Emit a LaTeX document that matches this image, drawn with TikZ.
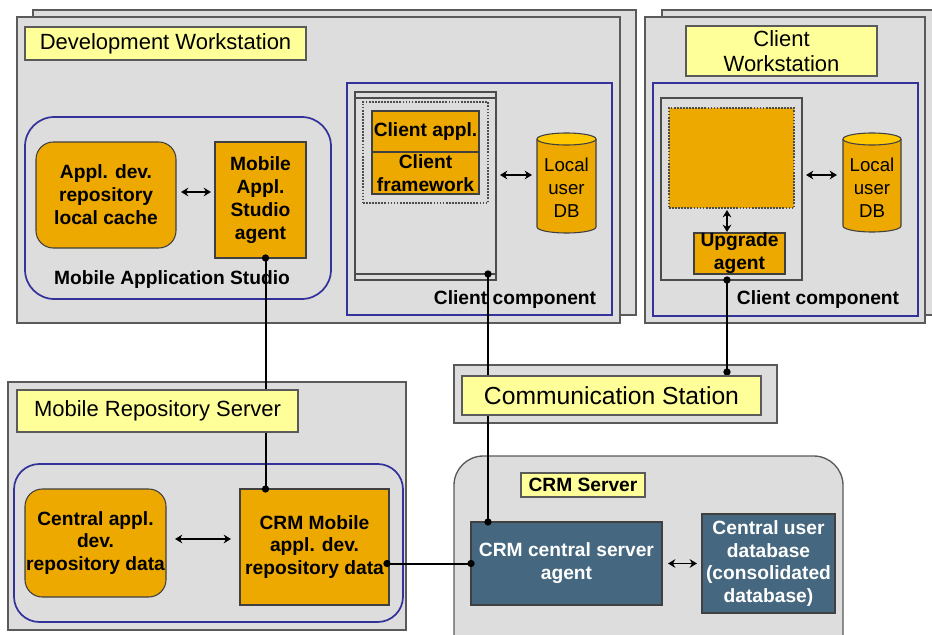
\documentclass[tikz,border=0pt]{standalone}
\usepackage{fontspec}
\setmainfont{Liberation Sans}
\usetikzlibrary{arrows.meta,calc}

\definecolor{panel}{HTML}{DDDDDD}
\definecolor{edge}{HTML}{5A5A5A}
\definecolor{notefill}{HTML}{FFFF99}
\definecolor{amber}{HTML}{EDA900}
\definecolor{amberlight}{HTML}{FFC800}
\definecolor{groupblue}{HTML}{333399}
\definecolor{slate}{HTML}{456880}

% Database drum drawn over an empty rectangular node: #1 node name, #2 half width (px)
\newcommand{\drumshape}[2]{%
  \path[fill=amber, draw=black!75, line width=0.8pt]
    ($(#1.north west)+(0,6)$) -- ($(#1.south west)+(0,-6)$)
    .. controls ($(#1.south west)+(0,-2.7)$) and ($(#1.south)+(-0.5523*#2,0)$) .. (#1.south)
    .. controls ($(#1.south)+(0.5523*#2,0)$) and ($(#1.south east)+(0,-2.7)$) .. ($(#1.south east)+(0,-6)$)
    -- ($(#1.north east)+(0,6)$);
  \path[fill=amberlight, draw=black!75, line width=0.8pt]
    ($(#1.north)+(0,6)$) ellipse [x radius=#2, y radius=6];
}

\begin{document}
\begin{tikzpicture}[x=0.75pt, y=-0.75pt,
  every node/.style={inner sep=0pt, outer sep=0pt},
  sized/.style 2 args={minimum width={#1*0.75pt}, minimum height={#2*0.75pt}},
  machine/.style={draw=edge, fill=panel, line width=1pt, anchor=north west},
  banner/.style={draw=edge, fill=notefill, line width=0.9pt, anchor=north west, align=center, font=\fontsize{16.5}{18.8}\selectfont},
  cluster/.style={draw=groupblue, line width=1.3pt, anchor=north west},
  part/.style={draw=black!75, fill=amber, line width=0.8pt, anchor=north west, align=center, font=\bfseries\fontsize{14.4}{17.2}\selectfont},
  serverpart/.style={part, fill=slate, text=white},
  caption/.style={font=\bfseries\fontsize{14.4}{17.2}\selectfont},
  storebox/.style={anchor=north west},
  storetext/.style={align=center, font=\fontsize{14}{17.2}\selectfont},
  winframe/.style={draw=black!70, line width=0.8pt, anchor=north west},
  twoway/.style={{Stealth[length=5.5pt,width=6.5pt]}-{Stealth[length=5.5pt,width=6.5pt]}, line width=1.1pt},
  link/.style={line width=1.5pt},
  joint/.style={circle, fill=black, minimum size=5.5pt}
]
\useasboundingbox (0,0) rectangle (932,635);
\clip (0,0) rectangle (932,635);

% ---------------- Development workstation ----------------
\node[machine, sized={603}{305}] (devBack) at (33,10) {};
\node[machine, sized={603}{306}] (devWS) at (17,17) {};
\node[banner, sized={281}{33}] (devTitle) at (25,27) {Development Workstation};

\node[cluster, sized={306}{182}, rounded corners=22pt] (studio) at (25,117) {};
\node[part, sized={140}{106}, rounded corners=13pt] (cache) at (36,142) {Appl. dev.\\repository\\local cache};
\node[part, sized={91}{116}] (agent) at (215,142) {Mobile\\Appl.\\Studio\\agent};
\draw[twoway] ($(cache.east)+(5,-3)$) -- ($(cache.east -| agent.west)+(-4,-3)$);
\node[caption] (studioLabel) at (172,280) {Mobile Application Studio};

\node[cluster, sized={265}{232}] (devComp) at (347,83) {};
\node[winframe, sized={141}{188}] (win) at (355,92) {};
\draw[draw=black!70, line width=0.8pt] ($(win.north west)+(0,6)$) -- ($(win.north east)+(0,6)$);
\draw[draw=black!70, line width=0.8pt] ($(win.south west)+(0,-6)$) -- ($(win.south east)+(0,-6)$);
\node[draw=black!70, densely dotted, line width=1.3pt, anchor=north west, sized={125}{101}] (bundle) at (363,102) {};
\node[part, sized={107}{41}] (clientAppl) at (372,111) {Client appl.};
\node[part, sized={107}{42}] (clientFw) at (372,152) {Client\\framework};
\node[storebox, sized={59}{100}] (db1) at (537,133) {};
\drumshape{db1}{29.5}
\node[storetext] (db1Text) at (566.5,188) {Local\\user\\DB};
\draw[twoway] ($(win.east)+(4,-11)$) -- ($(win.east -| db1.west)+(-5,-11)$);
\node[caption] (devCompLabel) at (515,300) {Client component};

% ---------------- Client workstation ----------------
\node[machine, sized={290}{305}] (cwBack) at (662,10) {};
\node[machine, sized={280}{306}] (cwWS) at (645,17) {};
\node[banner, sized={191}{50}] (cwTitle) at (686,26) {Client\\Workstation};

\node[cluster, sized={265}{233}] (cwComp) at (653,83) {};
\node[winframe, sized={141}{182}] (win2) at (661,98) {};
\node[fill=amber, draw=black!70, densely dotted, line width=1.3pt, anchor=north west, sized={125}{100}] (app2) at (669,108) {};
\node[part, sized={91}{41}] (upg) at (694,233) {Upgrade\\agent};
\coordinate (j3) at ($(win2.south west)+(66,0)$);
\draw[twoway] ($(app2.south -| j3)+(0,2)$) -- ($(upg.north -| j3)+(0,-1)$);
\node[storebox, sized={58}{99}] (db2) at (843,133) {};
\drumshape{db2}{29}
\node[storetext] (db2Text) at (872,187.5) {Local\\user\\DB};
\draw[twoway] ($(win2.east)+(4,-14)$) -- ($(win2.east -| db2.west)+(-6,-14)$);
\node[caption] (cwCompLabel) at (818,300) {Client component};

% ---------------- Servers ----------------
\node[machine, sized={323}{58}] (csOuter) at (454,365) {};
\node[machine, sized={389}{220}, rounded corners=22pt] (crmOuter) at (454,456) {};
\node[banner, sized={124}{24}, font=\bfseries\fontsize{14.4}{17.2}\selectfont] (crmTitle) at (521,473) {CRM Server};
\node[serverpart, sized={191}{83}] (crmAgent) at (471,522) {CRM central server\\agent};
\node[serverpart, sized={133}{99}] (cudb) at (702,514) {Central user\\database\\(consolidated\\database)};
\draw[twoway] ($(crmAgent.east)+(6,0)$) -- ($(cudb.west)+(-5,0)$);

\node[machine, sized={398}{248}] (mrOuter) at (8,382) {};
\node[cluster, sized={389}{158}, rounded corners=19pt] (mrGroup) at (14,464) {};
\node[part, sized={141}{108}, rounded corners=13pt] (central) at (25,489) {Central appl.\\dev.\\repository data};
\node[part, sized={149}{116}] (crmMobile) at (240,489) {CRM Mobile\\appl. dev.\\repository data};
\draw[twoway] ($(central.east)+(9,-4)$) -- ($(central.east -| crmMobile.west)+(-9,-4)$);

% ---------------- Connections ----------------
\coordinate (j1) at ($(agent.south)+(5,0)$);
\draw[link] (j1) -- (j1 |- crmMobile.north);
\node[joint] (d1) at (j1) {};
\node[joint] (d2) at (j1 |- crmMobile.north) {};

\coordinate (j2) at ($(win.south east)+(-8,-6)$);
\draw[link] (j2) -- (j2 |- crmAgent.north);
\node[joint] (d3) at (j2) {};
\node[joint] (d4) at (j2 |- crmAgent.north) {};

\coordinate (j3a) at (j3 |- csOuter.north);
\coordinate (j4) at ($(j3a)+(0,7)$);
\draw[link] (j3) -- (j4);
\node[joint] (d5) at (j3) {};
\node[joint] (d6) at (j4) {};

\draw[link] (crmAgent.west) -- (crmAgent.west -| crmMobile.east);
\node[joint] (d7) at (crmAgent.west) {};
\node[joint] (d8) at ($(crmAgent.west -| crmMobile.east)+(-2,0)$) {};

% station and server banners sit above the lines
\node[banner, sized={299}{39}, font=\fontsize{18.5}{21}\selectfont] (csTitle) at (462,376) {Communication Station};
\node[banner, sized={281}{42}] (mrTitle) at (17,390) {Mobile Repository Server};
\end{tikzpicture}
\end{document}
